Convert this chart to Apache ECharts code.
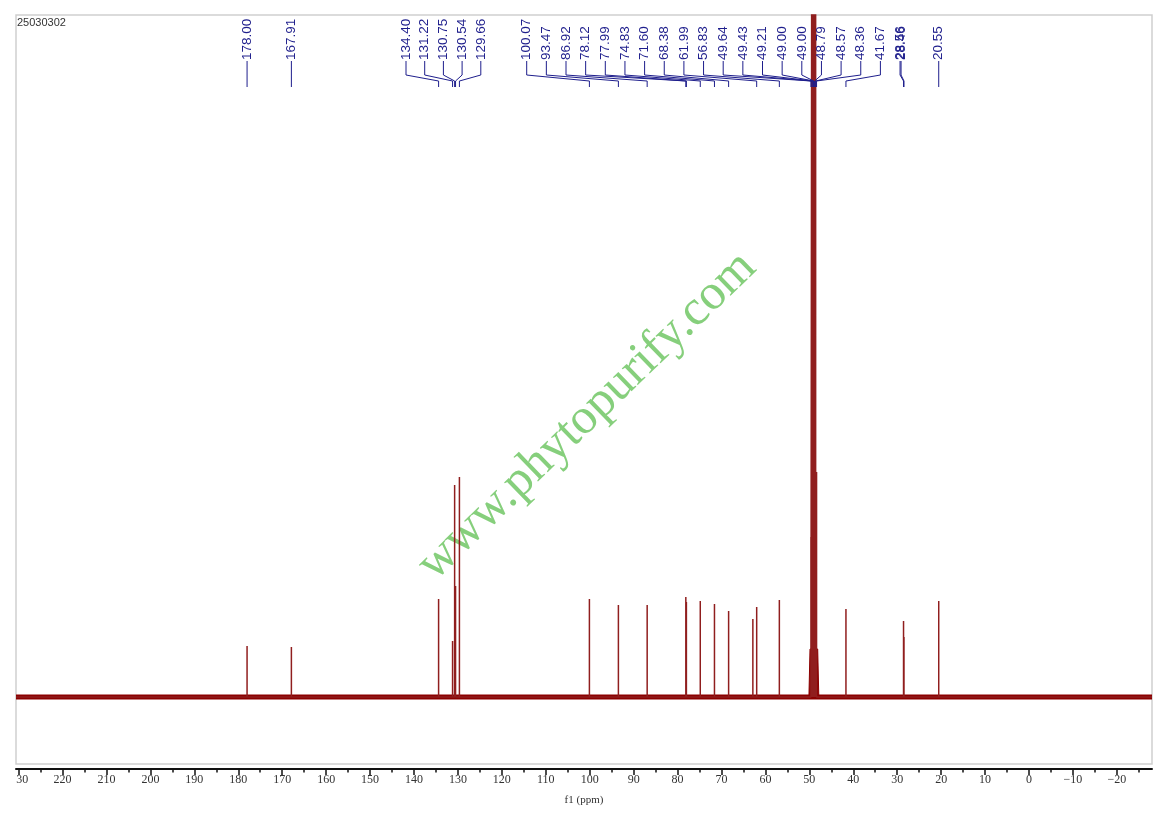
<!DOCTYPE html>
<html><head><meta charset="utf-8">
<script src="https://cdn.jsdelivr.net/npm/echarts@6/dist/echarts.min.js"></script>
<style>html,body{margin:0;padding:0;background:#fff}#c{width:1163px;height:816px}</style>
</head><body><div id="c"></div>
<script>
// ---- data ----
const sampleId = '25030302';
const xMin = -28, xMax = 230.6;
const majorTicks = [230,220,210,200,190,180,170,160,150,140,130,120,110,100,90,80,70,60,50,40,30,20,10,0,-10,-20];
const minorTicks = [225,215,205,195,185,175,165,155,145,135,125,115,105,95,85,75,65,55,45,35,25,15,5,-5,-15,-25];
const peakPpm    = [178.00,167.91,134.40,131.22,130.75,130.54,129.66,100.07,93.47,86.92,78.12,77.99,74.83,71.60,68.38,62.86,61.99,56.83,49.64,49.43,49.21,49.00,48.79,48.57,48.36,41.67,28.56,28.46,20.55];
const peakHeight = [51,50,98,56,212,111,220,98,92,92,100,95,96,93,86,78,90,97,160,900,900,900,900,900,225,88,76,60,96];
const solventBasePpm = [50.1,49.85,48.1,47.85];
const solventBaseH   = [0,48,48,0];
const labelTexts = ['178.00','167.91',
  '134.40','131.22','130.75','130.54','129.66',
  '100.07','93.47','86.92','78.12','77.99','74.83','71.60','68.38','61.99','56.83','49.64','49.43','49.21','49.00','49.00','48.79','48.57','48.36','41.67','28.56','28.46',
  '20.55'];
const watermark = 'www.phytopurify.com';
const axisTitle = 'f1 (ppm)';

// ---- build series data ----
const spectrum = [[xMax,0]];
peakPpm.forEach((p,i)=>{ spectrum.push([p,0],[p,peakHeight[i]],[p,0]); });
spectrum.push([xMin,0]);
const solventBase = solventBasePpm.map((p,i)=>[p,solventBaseH[i]]);

const chart = echarts.init(document.getElementById('c'), null, {renderer:'canvas'});
const RED = '#8b0000', NAVY = '#1e1e8c';
const tickFont = {fontFamily:'Liberation Serif', fontSize:12, color:'#333'};
chart.setOption({
  animation:false,
  backgroundColor:'#fff',
  grid:{left:16, right:11, top:15, bottom:52, show:true, borderColor:'#cfcfcf', borderWidth:1.5, containLabel:false},
  xAxis:[{
    type:'value', inverse:true, min:xMin, max:xMax, position:'bottom', offset:5,
    axisLine:{show:true, onZero:false, lineStyle:{color:'#111', width:2}},
    axisTick:{show:true, inside:false, length:6, customValues:majorTicks, lineStyle:{color:'#111', width:1.5}},
    axisLabel:{show:true, margin:5, customValues:majorTicks, ...tickFont,
      formatter:v=> v===230 ? '{a|30}' : (v<0 ? '\u2212'+(-v) : String(v)),
      rich:{a:{padding:[0,0,0,7], fontFamily:'Liberation Serif', fontSize:12, color:'#333'}}},
    splitLine:{show:false},
    name:axisTitle, nameLocation:'middle', nameGap:26,
    nameTextStyle:{fontFamily:'Liberation Serif', fontSize:11, color:'#333'}
  },{
    type:'value', inverse:true, min:xMin, max:xMax, position:'bottom', offset:5,
    axisLine:{show:false, onZero:false},
    axisTick:{show:true, inside:false, length:3.5, customValues:minorTicks, lineStyle:{color:'#111', width:1.5}},
    axisLabel:{show:false}, splitLine:{show:false}
  }],
  yAxis:{type:'value', min:-67, max:682, show:false},
  series:[
    {type:'line', data:[[xMax,0],[xMin,0]], symbol:'none', silent:true,
     lineStyle:{color:RED, width:5}},
    {type:'line', data:solventBase, symbol:'none', silent:true,
     lineStyle:{color:RED, width:1}, areaStyle:{color:RED, opacity:1}},
    {type:'line', data:spectrum, symbol:'none', sampling:null, silent:true, clip:true,
     lineStyle:{color:'#901e1e', width:1.5}}
  ]
});

// ---- peak label layout (pixel layout of the annotation rows) ----
function px(ppm){ return chart.convertToPixel({xAxisIndex:0}, ppm); }
const slotX = [];
labelTexts.forEach((t,i)=>{
  if (i < 2 || i === labelTexts.length-1) slotX.push(px(parseFloat(t)));
  else if (i < 7) slotX.push(406 + (i-2)*18.7);
  else if (t === '28.46') slotX.push(slotX[slotX.length-1] + 1);
  else slotX.push(526.7 + (i-7)*19.65);
});
const graphics = [];
labelTexts.forEach((t,i)=>{
  const lx = slotX[i], pxx = px(parseFloat(t));
  graphics.push({type:'text', x:lx, y:60, rotation:Math.PI/2, z:10,
    style:{text:t, fill:NAVY, fontFamily:'Liberation Sans', fontSize:13.5,
      align:'left', verticalAlign:'middle', textAlign:'left', textVerticalAlign:'middle'}});
  graphics.push({type:'polyline', z:10, shape:{points:[[lx,61],[lx,75],[pxx,81],[pxx,87]]},
    style:{stroke:NAVY, lineWidth:1, fill:null}});
});
graphics.push({type:'text', x:17, y:17, z:10,
  style:{text:sampleId, fill:'#333', fontFamily:'Liberation Sans', fontSize:11,
    align:'left', verticalAlign:'top', textAlign:'left', textVerticalAlign:'top'}});
graphics.push({type:'text', x:587, y:416, rotation:44*Math.PI/180, z:1,
  style:{text:watermark, fill:'#86cf7c', fontFamily:'Liberation Serif', fontSize:50,
    align:'center', verticalAlign:'middle', textAlign:'center', textVerticalAlign:'middle'}});
chart.setOption({graphic:graphics});
</script></body></html>
